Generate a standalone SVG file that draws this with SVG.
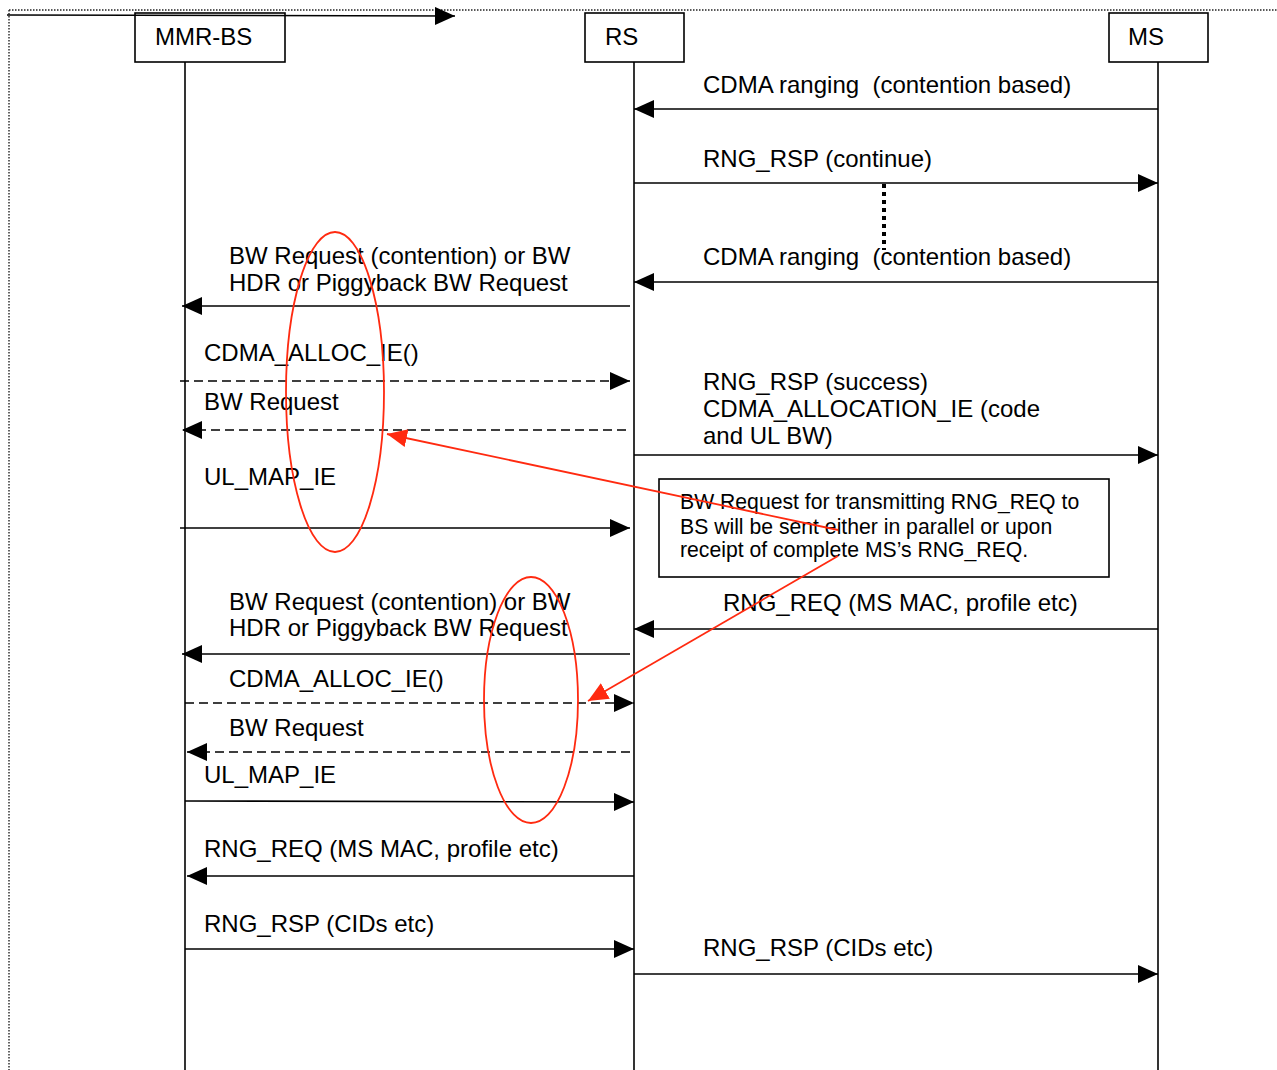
<svg xmlns="http://www.w3.org/2000/svg" width="1277" height="1070" viewBox="0 0 1277 1070">
<style>
.t{font-family:"Liberation Sans",Arial,sans-serif;font-size:24px;fill:#000;white-space:pre}
.s{font-family:"Liberation Sans",Arial,sans-serif;font-size:21.2px;fill:#000}
.box{fill:#fff;stroke:#000;stroke-width:1.6}
.life{stroke:#000;stroke-width:1.6;fill:none}
.m{stroke:#000;stroke-width:1.6;fill:none;marker-end:url(#ah)}
.d{stroke:#000;stroke-width:1.6;fill:none;stroke-dasharray:9 5;marker-end:url(#ah)}
.red{stroke:#ff2a10;stroke-width:1.8;fill:none}
</style>
<defs>
<marker id="ah" markerUnits="userSpaceOnUse" markerWidth="22" markerHeight="20" refX="20" refY="9" orient="auto" viewBox="0 0 22 20">
<path d="M0,0 L20,9 L0,18 Z" fill="#000"/>
</marker>
<marker id="rh" markerUnits="userSpaceOnUse" markerWidth="22" markerHeight="20" refX="20" refY="9" orient="auto" viewBox="0 0 22 20">
<path d="M0,0 L20,9 L0,18 Z" fill="#ff2a10"/>
</marker>
</defs>
<rect width="1277" height="1070" fill="#fff"/>
<g id="lifelines">
<line x1="185" y1="62" x2="185" y2="1070" class="life"/>
<line x1="634" y1="62" x2="634" y2="1070" class="life"/>
<line x1="1158" y1="62" x2="1158" y2="1070" class="life"/>
</g>
<g id="node-mmrbs"><rect x="135" y="13" width="150" height="49" class="box"/><text x="155" y="45" class="t">MMR-BS</text></g>
<g id="node-rs"><rect x="585" y="13" width="99" height="49" class="box"/><text x="605" y="45" class="t">RS</text></g>
<g id="node-ms"><rect x="1109" y="13" width="99" height="49" class="box"/><text x="1128" y="45" class="t">MS</text></g>
<g id="frame">
<path d="M9,10 H1277 M9,10 V1070" stroke="#222" stroke-width="1.4" stroke-dasharray="1.5 1.5" fill="none"/>
<line x1="7" y1="15" x2="455" y2="16" class="m"/>
</g>
<g id="connectors">
<line x1="1158" y1="109" x2="634" y2="109" class="m"/>
<line x1="634" y1="183" x2="1158" y2="183" class="m"/>
<line x1="884" y1="184" x2="884" y2="250" stroke="#000" stroke-width="4" stroke-dasharray="4 4"/>
<line x1="1158" y1="282" x2="634" y2="282" class="m"/>
<line x1="630" y1="306" x2="182" y2="306" class="m"/>
<line x1="180" y1="381" x2="630" y2="381" class="d"/>
<line x1="626" y1="430" x2="182" y2="430" class="d"/>
<line x1="634" y1="455" x2="1158" y2="455" class="m"/>
<line x1="180" y1="528" x2="630" y2="528" class="m"/>
<line x1="1158" y1="629" x2="634" y2="629" class="m"/>
<line x1="630" y1="654" x2="182" y2="654" class="m"/>
<line x1="185" y1="703" x2="634" y2="703" class="d"/>
<line x1="630" y1="752" x2="187" y2="752" class="d"/>
<line x1="185" y1="801" x2="634" y2="802" class="m"/>
<line x1="634" y1="876" x2="187" y2="876" class="m"/>
<line x1="185" y1="949" x2="634" y2="949" class="m"/>
<line x1="634" y1="974" x2="1158" y2="974" class="m"/>
</g>
<g id="labels">
<text x="703" y="93" class="t">CDMA ranging  (contention based)</text>
<text x="703" y="167" class="t">RNG_RSP (continue)</text>
<text x="703" y="265" class="t">CDMA ranging  (contention based)</text>
<text x="229" y="264" class="t">BW Request (contention) or BW</text>
<text x="229" y="291" class="t">HDR or Piggyback BW Request</text>
<text x="204" y="361" class="t">CDMA_ALLOC_IE()</text>
<text x="204" y="410" class="t">BW Request</text>
<text x="703" y="390" class="t">RNG_RSP (success)</text>
<text x="703" y="417" class="t">CDMA_ALLOCATION_IE (code</text>
<text x="703" y="444" class="t">and UL BW)</text>
<text x="204" y="485" class="t">UL_MAP_IE</text>
<text x="229" y="610" class="t">BW Request (contention) or BW</text>
<text x="229" y="636" class="t">HDR or Piggyback BW Request</text>
<text x="723" y="611" class="t">RNG_REQ (MS MAC, profile etc)</text>
<text x="229" y="687" class="t">CDMA_ALLOC_IE()</text>
<text x="229" y="736" class="t">BW Request</text>
<text x="204" y="783" class="t">UL_MAP_IE</text>
<text x="204" y="857" class="t">RNG_REQ (MS MAC, profile etc)</text>
<text x="204" y="932" class="t">RNG_RSP (CIDs etc)</text>
<text x="703" y="956" class="t">RNG_RSP (CIDs etc)</text>
</g>
<g id="note">
<rect x="659" y="479" width="450" height="98" class="box"/>
<text x="680" y="509" class="s">BW Request for transmitting RNG_REQ to</text>
<text x="680" y="534" class="s">BS will be sent either in parallel or upon</text>
<text x="680" y="557" class="s">receipt of complete MS’s RNG_REQ.</text>
</g>
<g id="annotations">
<ellipse cx="335" cy="392" rx="49" ry="160" class="red"/>
<ellipse cx="531" cy="700" rx="47" ry="123" class="red"/>
<line x1="838" y1="530" x2="387" y2="434" class="red" marker-end="url(#rh)"/>
<line x1="838" y1="556" x2="588" y2="701" class="red" marker-end="url(#rh)"/>
</g>
</svg>
